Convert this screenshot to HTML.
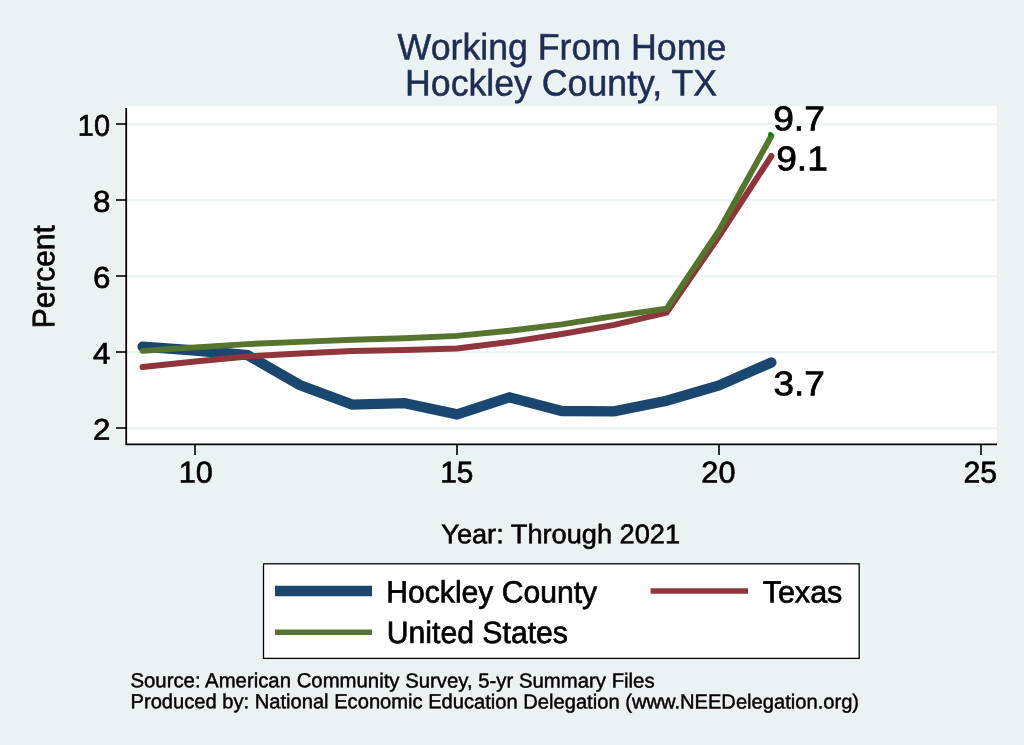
<!DOCTYPE html>
<html><head><meta charset="utf-8"><title>Working From Home - Hockley County, TX</title>
<style>
html,body{margin:0;padding:0;background:#eaf2f3;}
svg{display:block;font-family:"Liberation Sans",Arial,Helvetica,sans-serif;}
</style></head><body>
<svg width="1024" height="745" viewBox="0 0 1024 745">
<rect x="0" y="0" width="1024" height="745" fill="#eaf2f3"/>
<rect x="124" y="106" width="873" height="339.7" fill="#ffffff"/>
<g stroke="#eaf2f3" stroke-width="2.1" transform="translate(0,0.2)"><line x1="127" x2="997" y1="124" y2="124"/><line x1="127" x2="997" y1="200" y2="200"/><line x1="127" x2="997" y1="276" y2="276"/><line x1="127" x2="997" y1="352" y2="352"/><line x1="127" x2="997" y1="428" y2="428"/></g>
<g fill="none" stroke-linejoin="miter" stroke-linecap="round">
<polyline points="142.6,346.6 195.0,350.5 247.4,355.0 299.8,385.0 352.2,404.6 404.6,403.2 457.0,414.4 509.4,397.3 561.8,411.0 614.2,411.3 666.6,400.7 719.0,385.5 771.4,362.5" stroke="#1a476f" stroke-width="10.3"/>
<polyline points="142.6,366.7 195.0,361.0 247.4,356.0 299.8,353.0 352.2,350.5 404.6,349.5 457.0,348.0 509.4,341.7 561.8,333.6 614.2,324.5 666.6,312.2 719.0,236.0 771.4,155.6" stroke="#90353b" stroke-width="6" transform="translate(0,0.4)"/>
<polyline points="142.6,350.5 195.0,347.0 247.4,343.7 299.8,341.5 352.2,339.4 404.6,337.8 457.0,335.5 509.4,330.3 561.8,324.0 614.2,315.7 666.6,308.2 719.0,230.0 771.4,135.6" stroke="#55752f" stroke-width="5.9" transform="translate(0,0.4)"/>
</g>
<circle cx="770.4" cy="134.4" r="2.4" fill="#008000"/>
<polyline points="126.2,108 126.2,444.4 997,444.4" fill="none" stroke="#000" stroke-width="1.8" stroke-linejoin="round"/>
<g stroke="#000" stroke-width="1.6">
<line x1="116" x2="126" y1="124" y2="124"/><line x1="116" x2="126" y1="200" y2="200"/><line x1="116" x2="126" y1="276" y2="276"/><line x1="116" x2="126" y1="352" y2="352"/><line x1="116" x2="126" y1="428" y2="428"/><line x1="195" x2="195" y1="444" y2="455"/><line x1="457" x2="457" y1="444" y2="455"/><line x1="719" x2="719" y1="444" y2="455"/><line x1="981" x2="981" y1="444" y2="455"/>
</g>
<text id="yt" font-size="31.2" fill="#000" stroke="#000" stroke-width="0.66" text-anchor="middle" textLength="103" lengthAdjust="spacingAndGlyphs" transform="translate(54.2,276.7) rotate(-90.03)">Percent</text>
<rect x="262.3" y="562.6" width="598.1" height="97" fill="#f7fbfb"/>
<rect x="263.5" y="563.8" width="595.7" height="94.6" fill="#fff" stroke="#000" stroke-width="1.3"/>
<line x1="275" x2="372" y1="591" y2="591" stroke="#1a476f" stroke-width="10.5"/>
<line x1="650.6" x2="748" y1="591" y2="591" stroke="#90353b" stroke-width="5.5"/>
<line x1="275" x2="372" y1="632.3" y2="632.3" stroke="#55752f" stroke-width="5.5"/>
<text id="y10" x="77.86" y="135.7" font-size="30.0" text-anchor="start" transform="rotate(0.03 93.9 135.7)" fill="#000" stroke="#000" stroke-width="0.66" textLength="32.08" lengthAdjust="spacingAndGlyphs">10</text>
<text id="y8" x="93.0" y="211.8" font-size="30.0" text-anchor="start" transform="rotate(0.03 101.7 211.8)" fill="#000" stroke="#000" stroke-width="0.66" textLength="17.4" lengthAdjust="spacingAndGlyphs">8</text>
<text id="y6" x="93.0" y="287.8" font-size="30.0" text-anchor="start" transform="rotate(0.03 101.7 287.8)" fill="#000" stroke="#000" stroke-width="0.66" textLength="17.4" lengthAdjust="spacingAndGlyphs">6</text>
<text id="y4" x="93.0" y="363.8" font-size="30.0" text-anchor="start" transform="rotate(0.03 101.7 363.8)" fill="#000" stroke="#000" stroke-width="0.66" textLength="17.4" lengthAdjust="spacingAndGlyphs">4</text>
<text id="y2" x="93.0" y="439.8" font-size="30.0" text-anchor="start" transform="rotate(0.03 101.7 439.8)" fill="#000" stroke="#000" stroke-width="0.66" textLength="17.4" lengthAdjust="spacingAndGlyphs">2</text>
<text id="x10" x="178.84" y="482.5" font-size="30.0" text-anchor="start" transform="rotate(0.03 195.8 482.5)" fill="#000" stroke="#000" stroke-width="0.66" textLength="34.0" lengthAdjust="spacingAndGlyphs">10</text>
<text id="x15" x="440.22" y="482.5" font-size="30.0" text-anchor="start" transform="rotate(0.03 456.8 482.5)" fill="#000" stroke="#000" stroke-width="0.66" textLength="33.2" lengthAdjust="spacingAndGlyphs">15</text>
<text id="x20" x="701.36" y="482.5" font-size="30.0" text-anchor="start" transform="rotate(0.03 718.4 482.5)" fill="#000" stroke="#000" stroke-width="0.66" textLength="34.07" lengthAdjust="spacingAndGlyphs">20</text>
<text id="x25" x="963.57" y="482.5" font-size="30.0" text-anchor="start" transform="rotate(0.03 980.4 482.5)" fill="#000" stroke="#000" stroke-width="0.66" textLength="33.63" lengthAdjust="spacingAndGlyphs">25</text>
<text id="t1" x="397.59" y="59.6" font-size="36.9" text-anchor="start" transform="rotate(0.03 561.9 59.6)" fill="#1e2d53" stroke="#1e2d53" stroke-width="0.52" textLength="328.67" lengthAdjust="spacingAndGlyphs">Working From Home</text>
<text id="t2" x="405.12" y="95.5" font-size="36.9" text-anchor="start" transform="rotate(0.03 561.0 95.5)" fill="#1e2d53" stroke="#1e2d53" stroke-width="0.52" textLength="311.86" lengthAdjust="spacingAndGlyphs">Hockley County, TX</text>
<text id="l97" x="773.21" y="130.3" font-size="34.3" text-anchor="start" transform="rotate(0.03 799.0 130.3)" fill="#000" stroke="#000" stroke-width="0.75" textLength="51.63" lengthAdjust="spacingAndGlyphs">9.7</text>
<text id="l91" x="776.21" y="170.3" font-size="34.3" text-anchor="start" transform="rotate(0.03 802.0 170.3)" fill="#000" stroke="#000" stroke-width="0.75" textLength="51.63" lengthAdjust="spacingAndGlyphs">9.1</text>
<text id="l37" x="773.4" y="395.3" font-size="34.3" text-anchor="start" transform="rotate(0.03 799.1 395.3)" fill="#000" stroke="#000" stroke-width="0.75" textLength="51.38" lengthAdjust="spacingAndGlyphs">3.7</text>
<text id="xt" x="441.26" y="543.2" font-size="27.0" text-anchor="start" transform="rotate(0.03 560.6 543.2)" fill="#000" stroke="#000" stroke-width="0.59" textLength="238.77" lengthAdjust="spacingAndGlyphs">Year: Through 2021</text>
<text id="lg1" x="386.3" y="602.6" font-size="30.8" text-anchor="start" transform="rotate(0.03 491.7 602.6)" fill="#000" stroke="#000" stroke-width="0.68" textLength="210.87" lengthAdjust="spacingAndGlyphs">Hockley County</text>
<text id="lg2" x="762.63" y="602.6" font-size="30.8" text-anchor="start" transform="rotate(0.03 802.5 602.6)" fill="#000" stroke="#000" stroke-width="0.68" textLength="79.77" lengthAdjust="spacingAndGlyphs">Texas</text>
<text id="lg3" x="386.77" y="643.0" font-size="30.8" text-anchor="start" transform="rotate(0.03 477.3 643.0)" fill="#000" stroke="#000" stroke-width="0.68" textLength="181.15" lengthAdjust="spacingAndGlyphs">United States</text>
<text id="n1" x="130.44" y="687.4" font-size="20.3" text-anchor="start" transform="rotate(0.03 392.5 687.4)" fill="#000" stroke="#000" stroke-width="0.45" textLength="524.15" lengthAdjust="spacingAndGlyphs">Source: American Community Survey, 5-yr Summary Files</text>
<text id="n2" x="130.5" y="708.4" font-size="20.3" text-anchor="start" transform="rotate(0.03 494.8 708.4)" fill="#000" stroke="#000" stroke-width="0.45" textLength="728.54" lengthAdjust="spacingAndGlyphs">Produced by: National Economic Education Delegation (www.NEEDelegation.org)</text>
</svg>
</body></html>
